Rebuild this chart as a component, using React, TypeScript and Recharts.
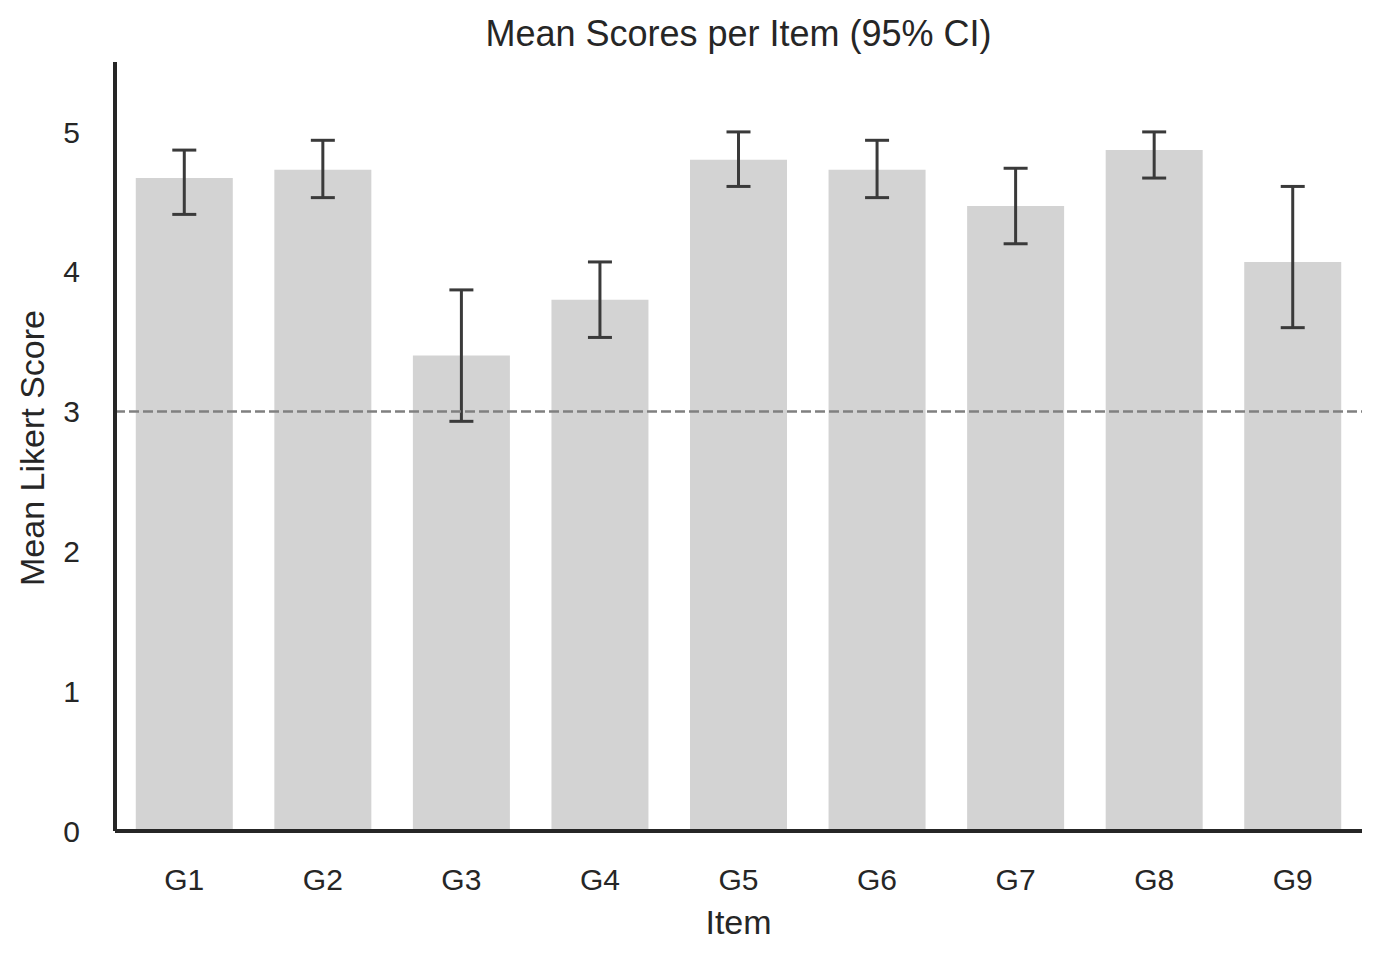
import React from 'react'
import { BarChart, Bar, XAxis, YAxis, ErrorBar, ReferenceLine } from 'recharts'

const items = ['G1', 'G2', 'G3', 'G4', 'G5', 'G6', 'G7', 'G8', 'G9']
const means = [4.67, 4.73, 3.4, 3.8, 4.8, 4.73, 4.47, 4.87, 4.07]
const ciLow = [4.41, 4.53, 2.93, 3.53, 4.61, 4.53, 4.2, 4.67, 3.6]
const ciHigh = [4.87, 4.94, 3.87, 4.07, 5.0, 4.94, 4.74, 5.0, 4.61]
const yTicks = [0, 1, 2, 3, 4, 5]

const data = items.map((item, i) => ({
  item,
  mean: means[i],
  ci: [means[i] - ciLow[i], ciHigh[i] - means[i]],
}))

const font = '"Liberation Sans", Arial, sans-serif'
const ink = '#262626'

export default function App() {
  return (
    <div style={{ position: 'absolute', left: 0, top: 0, width: 1380, height: 961, background: '#fff', fontFamily: font }}>
      <div style={{ position: 'absolute', left: 115, width: 1247, top: 14, textAlign: 'center', fontSize: 36, color: ink, lineHeight: '40px' }}>
        Mean Scores per Item (95% CI)
      </div>
      <div style={{ position: 'absolute', left: 115, width: 1247, top: 902, textAlign: 'center', fontSize: 34, color: ink, lineHeight: '40px' }}>
        Item
      </div>
      <div
        style={{
          position: 'absolute', left: 32, top: 448, width: 400, marginLeft: -200, marginTop: -20,
          textAlign: 'center', fontSize: 34, color: ink, lineHeight: '40px', transform: 'rotate(-90deg)',
        }}
      >
        Mean Likert Score
      </div>
      <BarChart
        width={1380}
        height={961}
        data={data}
        margin={{ top: 62, right: 18, bottom: 70, left: 0 }}
        barCategoryGap="15%"
        style={{ position: 'absolute', left: 0, top: 0 }}
      >
        <XAxis
          dataKey="item"
          height={60}
          axisLine={{ stroke: ink, strokeWidth: 4 }}
          tickLine={false}
          tickSize={0}
          tickMargin={38}
          tick={{ fontSize: 30, fill: ink, fontFamily: font }}
        />
        <YAxis
          width={115}
          domain={[0, 5.5]}
          ticks={yTicks}
          axisLine={{ stroke: ink, strokeWidth: 4 }}
          tickLine={false}
          tickSize={0}
          tickMargin={35}
          tick={{ fontSize: 30, fill: ink, fontFamily: font }}
        />
        <Bar dataKey="mean" fill="#d3d3d3" isAnimationActive={false}>
          <ErrorBar dataKey="ci" direction="y" width={12} stroke="#3a3a3a" strokeWidth={3} isAnimationActive={false} />
        </Bar>
        <ReferenceLine y={3} stroke="#808080" strokeWidth={2.5} strokeDasharray="10 4" />
      </BarChart>
    </div>
  )
}
